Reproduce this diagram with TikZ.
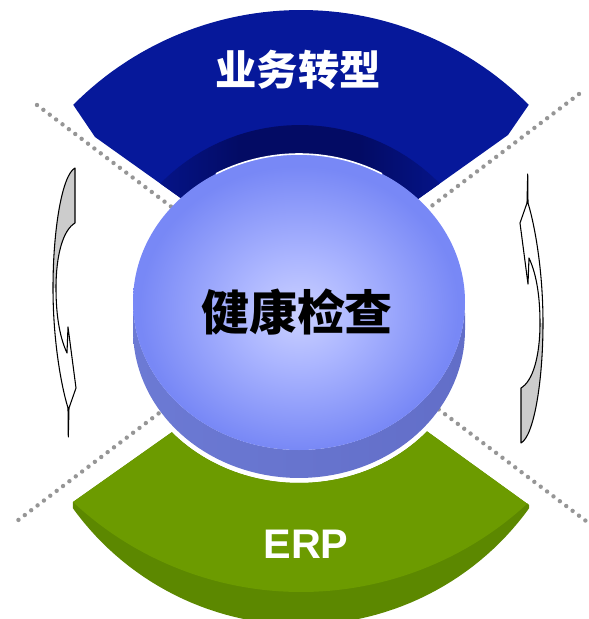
\documentclass[tikz,border=0pt]{standalone}
\usepackage{fontspec}
\setmainfont{Liberation Sans}
\newfontfamily\cjk{Noto Sans CJK SC}
\definecolor{bandblue}{RGB}{6,24,154}
\definecolor{walldark}{RGB}{3,11,100}
\definecolor{greentop}{RGB}{108,155,0}
\definecolor{greenside}{RGB}{92,136,0}
\definecolor{discC}{RGB}{202,208,255}
\definecolor{discM}{RGB}{172,182,255}
\definecolor{discE}{RGB}{120,136,246}
\definecolor{sideL}{RGB}{108,122,212}
\definecolor{sideM}{RGB}{68,78,150}
\definecolor{sideR}{RGB}{98,110,200}
\definecolor{dotgray}{RGB}{150,150,150}
\definecolor{arrowgray}{RGB}{204,204,204}
\pgfdeclareradialshading{discshade}{\pgfpoint{0bp}{-2bp}}{color(0bp)=(discC); color(9bp)=(discM); color(24bp)=(discE); color(50bp)=(discE)}
\pgfdeclarehorizontalshading{wallshade}{100bp}{color(0bp)=(bandblue); color(25bp)=(bandblue); color(42bp)=(walldark); color(58bp)=(walldark); color(75bp)=(bandblue); color(100bp)=(bandblue)}
\def\bluepath{plot[domain=224.8:315.2, samples=60] ({301+321*cos(\x)},{331+321*sin(\x)}) -- (508,135) -- (300,283) -- (95,137) -- cycle}
\def\arrowoutline{(75,168) .. controls (62,175) and (53,230) .. (53,288)
   .. controls (53,340) and (61,385) .. (68,408) -- (68.3,437) -- (69,408) -- (76,388) -- (68,327) -- (67,353)
   .. controls (61,340) and (56,320) .. (56,288) .. controls (56,255) and (63,230) .. (75,223) -- cycle}
\def\arrowback{(75,168) .. controls (62,175) and (53,230) .. (53,288) -- (56,288) .. controls (56,255) and (63,230) .. (75,223) -- cycle}
\newcommand\twistarrow{%
  \fill[white] \arrowoutline;
  \fill[arrowgray] \arrowback;
  \draw[arrowline] \arrowoutline;
}
\begin{document}
\begin{tikzpicture}[x=0.75pt, y=-0.75pt,
  dotline/.style={dotgray, line width=3.3pt, line cap=round, dash pattern=on 0pt off 6pt},
  arrowline/.style={draw=black, line width=0.8pt, line join=round},
  labelw/.style={text=white, inner sep=0pt}]
\useasboundingbox (0,0) rectangle (589,619);
\clip (0,0) rectangle (589,619);
% dotted diagonals
\draw[dotline] (37,105) -- (586,521);
\draw[dotline] (579,94) -- (17,521);
% blue band
\fill[bandblue] \bluepath;
\begin{scope}
  \clip \bluepath;
  \shade[shading=wallshade]
    plot[domain=200:340, samples=50] ({300+196*cos(\x)},{321+196*sin(\x)}) -- (300,340) -- cycle;
\end{scope}
% green band: side face
\fill[greenside] plot[domain=35.8:144.2, samples=60] ({301+281.4*cos(\x)},{343.5+281.4*sin(\x)})
  -- (73,502) -- (172,432)
  -- plot[domain=42:138.5, samples=50] ({299+171*cos(180-\x)},{330+153*sin(180-\x)})
  -- (529,505) -- cycle;
% green band: top face
\fill[greentop] plot[domain=42:138.5, samples=50] ({299+171*cos(180-\x)},{330+153*sin(180-\x)})
  -- (529,505)
  -- plot[domain=47.3:133.06, samples=60] ({301+334*cos(\x)},{258+334*sin(\x)})
  -- cycle;
% twisted arrows
\twistarrow
\begin{scope}[rotate around={180:(298,305.5)}]
  \twistarrow
\end{scope}
% disc side
\shade[left color=sideL, middle color=sideM, right color=sideR]
  plot[domain=0:180, samples=70] ({299+166*cos(\x)},{330+148*sin(\x)})
  -- plot[domain=0:180, samples=70] ({299-166*cos(\x)},{302+148*sin(\x)}) -- cycle;
% disc top
\shade[shading=discshade] (299,302) ellipse [x radius=166, y radius=148];
\draw[white, line width=1.2pt] plot[domain=240:300, samples=30] ({299+166*cos(\x)},{302+148*sin(\x)});
% labels
\node[labelw, font=\cjk\bfseries\fontsize{31}{31}\selectfont] (yw) at (298,70) {业务转型};
\node[inner sep=0pt, font=\cjk\bfseries\fontsize{36}{36}\selectfont] (jk) at (297,312) {健康检查};
\node[labelw, anchor=base, font=\bfseries\fontsize{31}{31}\selectfont] (erp) at (306,558) {ERP};
\end{tikzpicture}
\end{document}
